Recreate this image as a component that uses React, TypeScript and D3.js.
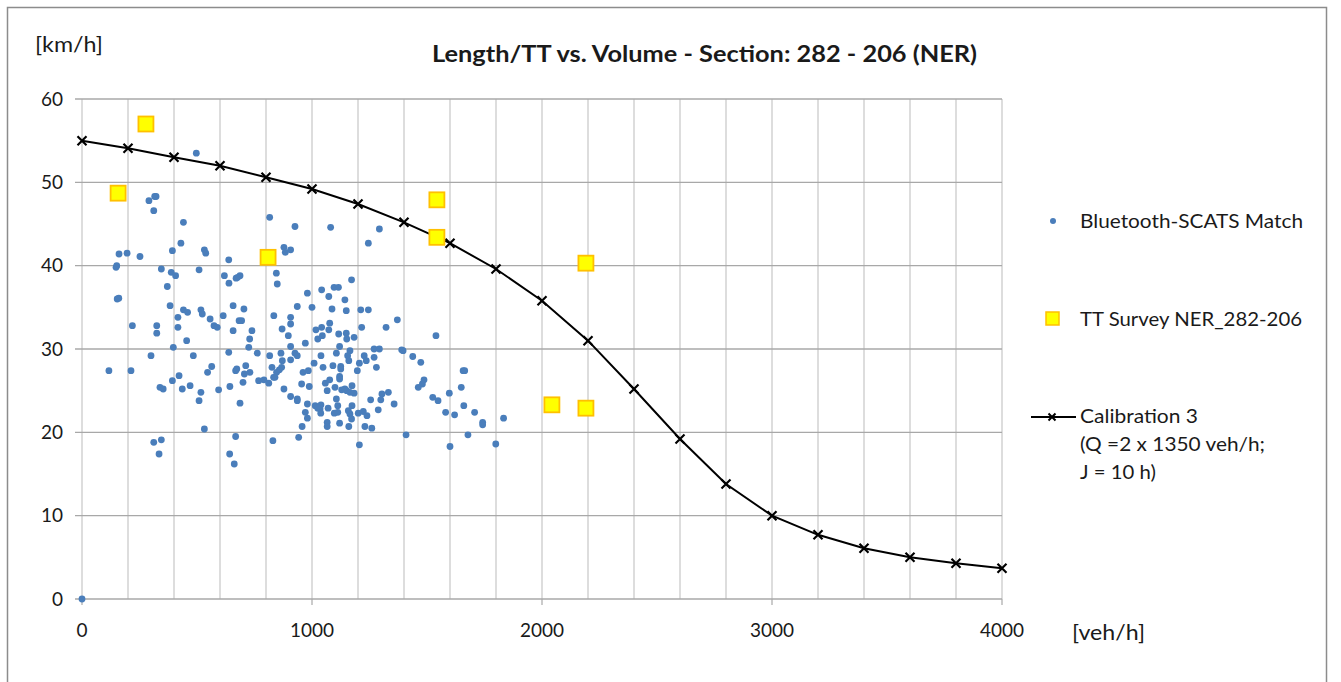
import React from "react";
import * as d3 from "d3";

// Calibration 3 model curve (speed vs. volume)
const calVolume = [0, 200, 400, 600, 800, 1000, 1200, 1400, 1600, 1800, 2000, 2200, 2400, 2600, 2800, 3000, 3200, 3400, 3600, 3800, 4000];
const calSpeed = [55.0, 54.1, 53.0, 52.0, 50.6, 49.2, 47.4, 45.2, 42.7, 39.6, 35.8, 31.0, 25.2, 19.2, 13.8, 10.0, 7.7, 6.1, 5.0, 4.3, 3.7];

// TT Survey NER_282-206
const surveyVolume = [278, 157, 809, 1543, 1543, 2191, 2043, 2191];
const surveySpeed = [57.0, 48.7, 41.0, 47.9, 43.4, 40.3, 23.3, 22.9];

// Bluetooth-SCATS Match observations: [volume veh/h, speed km/h]
const bluetoothMatch: [number, number][] = [
  [0, 0],
  [497, 53.5], [291, 47.8], [316, 48.3], [322, 48.3], [312, 46.6], [441, 45.2], [430, 42.7], [393, 41.8], [532, 41.9], [538, 41.5],
  [161, 41.4], [196, 41.5], [252, 41.1], [638, 40.7], [148, 39.8], [151, 40.0], [345, 39.6], [388, 39.2], [407, 38.8], [509, 39.5],
  [619, 38.8], [639, 37.9], [687, 38.8], [677, 38.6], [670, 38.5], [371, 37.5], [816, 45.8], [926, 44.7], [878, 42.2], [884, 41.6],
  [907, 41.9], [845, 39.1], [849, 37.8],
  [1081, 44.6], [1293, 44.4], [1245, 42.7], [1172, 38.3], [1096, 37.4], [1115, 37.4], [1042, 37.1],
  [153, 36.0], [160, 36.1], [383, 35.2], [441, 34.7], [459, 34.4], [417, 33.8], [517, 34.7], [523, 34.2], [557, 33.6], [574, 32.8],
  [588, 32.6], [614, 34.0], [657, 35.2], [704, 34.8], [683, 33.4], [694, 33.4], [657, 32.2], [739, 32.2], [729, 31.2], [725, 30.2],
  [219, 32.8], [325, 32.8], [325, 31.9], [417, 32.6], [455, 31.0], [397, 30.2], [300, 29.2], [484, 29.2], [117, 27.4], [213, 27.4],
  [638, 29.6], [668, 27.4], [673, 27.6], [564, 27.9], [546, 27.2], [712, 28.0], [706, 27.0], [730, 27.2], [700, 26.0], [643, 25.5],
  [594, 25.1], [517, 24.8], [509, 23.8], [470, 25.6], [436, 25.2], [422, 26.8], [393, 26.2], [339, 25.4], [353, 25.2], [687, 23.5],
  [532, 20.4], [668, 19.5], [642, 17.4], [662, 16.2], [312, 18.8], [345, 19.1], [335, 17.4], [762, 29.5], [768, 26.2], [791, 26.3],
  [812, 25.9], [816, 29.2], [826, 27.8], [834, 34.0], [870, 32.4], [897, 31.6], [907, 33.8], [907, 33.0], [936, 35.1], [980, 36.7],
  [1000, 35.0], [907, 30.3], [865, 29.5], [871, 28.6], [868, 27.8], [858, 27.5], [846, 27.2], [833, 26.6], [839, 26.6], [926, 29.5],
  [936, 29.2], [907, 28.7], [971, 30.7], [1017, 32.3], [1025, 31.2], [1009, 28.3], [961, 27.2], [984, 27.4], [955, 25.8], [988, 25.5],
  [878, 25.2], [907, 24.3], [936, 24.0], [936, 23.8], [980, 23.4], [971, 22.4], [980, 21.7], [957, 20.7], [942, 19.4], [830, 19.0],
  [1014, 23.2], [1035, 22.8],
  [1073, 36.3], [1143, 35.9], [1087, 34.8], [1149, 34.6], [1212, 34.7], [1245, 34.7], [1371, 33.5], [1322, 32.6], [1216, 32.6], [1539, 31.6],
  [1077, 33.1], [1042, 32.6], [1073, 32.3], [1116, 31.8], [1149, 31.9], [1045, 31.6], [1151, 31.2], [1183, 31.4], [1120, 30.3], [1165, 29.8],
  [1155, 29.2], [1160, 28.6], [1106, 29.5], [1039, 29.2], [1270, 30.0], [1293, 30.0], [1227, 29.2], [1236, 28.6], [1206, 28.3], [1270, 29.0],
  [1280, 27.8], [1390, 29.9], [1396, 29.8], [1438, 29.1], [1473, 28.4], [1091, 28.0], [1125, 27.9], [1125, 27.6], [1048, 27.8], [1197, 27.4],
  [1657, 27.4], [1664, 27.4], [1487, 26.3], [1480, 25.8], [1462, 25.4], [1120, 26.7], [1120, 26.4], [1077, 26.3], [1058, 25.9], [1100, 25.4],
  [1129, 25.1], [1143, 25.2], [1151, 25.0], [1165, 24.8], [1183, 24.7], [1174, 25.6], [1066, 25.0], [1332, 24.8], [1304, 24.6], [1299, 23.9],
  [1255, 23.9], [1357, 23.4], [1106, 24.0], [1039, 23.3], [1025, 22.9], [1070, 22.9], [1112, 23.2], [1112, 22.4], [1174, 23.2], [1158, 22.6],
  [1165, 22.2], [1172, 21.6], [1201, 22.3], [1223, 22.5], [1239, 22.0], [1288, 22.7], [1097, 22.3], [1038, 22.3], [1066, 21.2], [1066, 20.7],
  [1120, 21.1], [1160, 20.7], [1230, 20.7], [1260, 20.5], [1206, 18.5], [1409, 19.7], [1600, 18.3], [1678, 19.7], [1799, 18.6], [1833, 21.7],
  [1742, 21.2], [1742, 20.9], [1707, 22.4], [1660, 23.2], [1620, 22.1], [1581, 22.4], [1597, 24.7], [1649, 25.4], [1525, 24.2], [1548, 23.8],
];

const xGridValues = d3.range(0, 4001, 200);
const xTickLabels = [0, 1000, 2000, 3000, 4000];
const yTickValues = [0, 10, 20, 30, 40, 50, 60];

const titleText = "Length/TT vs. Volume - Section: 282 - 206 (NER)";
const legendLabels = ["Bluetooth-SCATS Match", "TT Survey NER_282-206", "Calibration 3"];
const calibrationNote = ["(Q =2 x 1350 veh/h;", "J = 10 h)"];

const FONT = "Lato, 'Open Sans', sans-serif";
const BLUE = "#4a7ebb";
const TEXT = "#1a1a1a";

function XMark({ cx, cy, r = 4.5, w = 2.2 }: { cx: number; cy: number; r?: number; w?: number }) {
  return (
    <path
      d={`M${cx - r},${cy - r}L${cx + r},${cy + r}M${cx - r},${cy + r}L${cx + r},${cy - r}`}
      stroke="#000"
      strokeWidth={w}
      fill="none"
    />
  );
}

// Text stretched to a fixed width
function Label({ x, y, len, size, children, bold }: { x: number; y: number; len: number; size: number; children: string; bold?: boolean }) {
  return (
    <text
      x={x}
      y={y}
      dy="0.35em"
      fontSize={size}
      fontWeight={bold ? "bold" : "normal"}
      fill={TEXT}
      textLength={len}
      lengthAdjust="spacingAndGlyphs"
    >
      {children}
    </text>
  );
}

export default function App() {
  const width = 1341;
  const height = 682;
  const x = d3.scaleLinear().domain([0, 4000]).range([82, 1002]);
  const y = d3.scaleLinear().domain([0, 60]).range([599, 99]);

  const calLine = d3
    .line<number>()
    .x((_, i) => x(calVolume[i]))
    .y((d) => y(d));

  const sq = 15;

  return (
    <svg
      width={width}
      height={height}
      style={{ position: "absolute", left: 0, top: 0, background: "#fff" }}
      fontFamily={FONT}
    >
      <rect x={0} y={0} width={width} height={height} fill="#fff" />
      {/* chart frame */}
      <rect x={7.5} y={7.5} width={1319} height={700} fill="none" stroke="#8c8c8c" strokeWidth={1.5} />

      {/* vertical gridlines */}
      {xGridValues.map((v) => (
        <line key={"vx" + v} x1={x(v)} x2={x(v)} y1={y(60)} y2={y(0)} stroke="#c6c6c6" strokeWidth={1.2} />
      ))}
      {/* horizontal gridlines with left ticks */}
      {yTickValues.map((v) => (
        <line key={"hy" + v} x1={x(0) - 7} x2={x(4000)} y1={y(v)} y2={y(v)} stroke="#a8a8a8" strokeWidth={1.3} />
      ))}
      {/* x tick marks */}
      {xTickLabels.map((v) => (
        <line key={"xt" + v} x1={x(v)} x2={x(v)} y1={y(0)} y2={y(0) + 6} stroke="#a8a8a8" strokeWidth={1.2} />
      ))}

      {/* y tick labels */}
      {yTickValues.map((v) => (
        <text key={"yl" + v} x={x(0) - 19} y={y(v)} dy="0.35em" textAnchor="end" fontSize={19} fill={TEXT}>
          {v}
        </text>
      ))}
      {/* x tick labels */}
      {xTickLabels.map((v) => (
        <text key={"xl" + v} x={x(v)} y={630} dy="0.35em" textAnchor="middle" fontSize={19} fill={TEXT}>
          {v}
        </text>
      ))}

      {/* axis unit labels */}
      <Label x={35} y={45} len={68} size={21}>[km/h]</Label>
      <Label x={1072} y={633} len={73} size={21}>[veh/h]</Label>

      {/* title */}
      <Label x={432} y={54} len={545} size={22} bold>{titleText}</Label>

      {/* Bluetooth-SCATS Match points */}
      {bluetoothMatch.map(([v, s], i) => (
        <circle key={"b" + i} cx={x(v)} cy={y(s)} r={3.4} fill={BLUE} />
      ))}

      {/* Calibration 3 line */}
      <path d={calLine(calSpeed) || ""} fill="none" stroke="#000" strokeWidth={2} />
      {calSpeed.map((s, i) => (
        <XMark key={"c" + i} cx={x(calVolume[i])} cy={y(s)} />
      ))}

      {/* TT Survey points */}
      {surveySpeed.map((s, i) => (
        <rect
          key={"s" + i}
          x={x(surveyVolume[i]) - sq / 2}
          y={y(s) - sq / 2}
          width={sq}
          height={sq}
          fill="#ffff00"
          stroke="#ffc000"
          strokeWidth={1.8}
        />
      ))}

      {/* legend */}
      <circle cx={1053} cy={221} r={3} fill={BLUE} />
      <Label x={1080} y={221} len={223} size={20}>{legendLabels[0]}</Label>

      <rect x={1046} y={312} width={13} height={13} fill="#ffff00" stroke="#ffc000" strokeWidth={1.5} />
      <Label x={1080} y={319} len={222} size={20}>{legendLabels[1]}</Label>

      <line x1={1031} x2={1076} y1={417} y2={417} stroke="#000" strokeWidth={2} />
      <XMark cx={1052} cy={417} r={3.5} w={2} />
      <Label x={1080} y={416} len={118} size={20}>{legendLabels[2]}</Label>
      <Label x={1080} y={444} len={185} size={20}>{calibrationNote[0]}</Label>
      <Label x={1080} y={472} len={76} size={20}>{calibrationNote[1]}</Label>
    </svg>
  );
}
